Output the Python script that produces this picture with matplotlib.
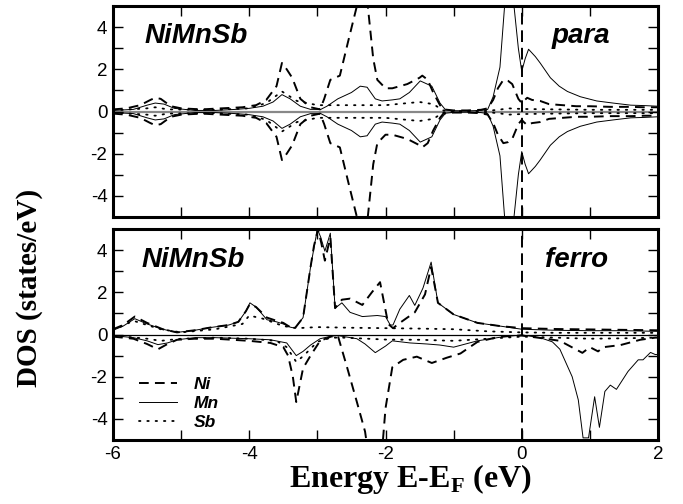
import matplotlib
matplotlib.use("Agg")
import matplotlib.pyplot as plt
from matplotlib.ticker import MultipleLocator
from matplotlib.lines import Line2D
import numpy as np

# ---------------- data ----------------
# paramagnetic panel: symmetric, store the spin-up half
para_ni_e = [-6.0, -5.8, -5.6, -5.45, -5.38, -5.3, -5.15, -5.0, -4.7, -4.4, -4.1, -3.9, -3.75, -3.6,
             -3.52, -3.45, -3.37, -3.25, -3.1, -2.96, -2.9, -2.81, -2.67, -2.55, -2.42, -2.35, -2.26,
             -2.18, -2.12, -2.0, -1.9, -1.68, -1.5, -1.46, -1.38, -1.3, -1.2, -1.15, -1.0, -0.8, -0.6,
             -0.5, -0.42, -0.35, -0.27, -0.2, -0.14, -0.05, 0.0, 0.03, 0.08, 0.15, 0.27, 0.4, 0.6,
             0.8, 1.0, 1.3, 1.6, 1.8, 2.0]
para_ni = [0.1, 0.15, 0.3, 0.55, 0.65, 0.6, 0.25, 0.15, 0.1, 0.15, 0.2, 0.3, 0.55, 1.2,
           2.3, 2.0, 1.6, 0.6, 0.2, 0.1, 0.6, 1.5, 1.7, 3.3, 5.0, 7.0, 5.0,
           2.5, 1.5, 1.1, 1.1, 1.3, 1.6, 1.7, 1.5, 0.9, 0.3, 0.1, 0.05, 0.05, 0.08,
           0.15, 0.55, 1.1, 1.5, 1.45, 1.3, 0.6, 0.4, 0.5, 0.65, 0.55, 0.5, 0.35, 0.3,
           0.25, 0.25, 0.22, 0.22, 0.2, 0.2]

para_mn_e = [-6.0, -5.7, -5.5, -5.38, -5.25, -5.1, -4.8, -4.5, -4.2, -4.0, -3.8, -3.65, -3.52, -3.4,
             -3.25, -3.1, -2.95, -2.86, -2.7, -2.5, -2.37, -2.27, -2.15, -2.05, -1.9, -1.79, -1.65,
             -1.49, -1.32, -1.2, -1.12, -1.0, -0.8, -0.6, -0.5, -0.42, -0.32, -0.24, -0.2, -0.16,
             -0.13, -0.05, 0.0, 0.05, 0.1, 0.2, 0.27, 0.42, 0.55, 0.67, 0.86, 1.1, 1.34, 1.6, 1.8, 2.0]
para_mn = [0.05, 0.1, 0.3, 0.4, 0.35, 0.15, 0.05, 0.05, 0.1, 0.15, 0.25, 0.45, 0.8, 0.6,
           0.25, 0.1, 0.1, 0.25, 0.6, 0.9, 1.2, 1.15, 0.6, 0.5, 0.55, 0.6, 0.9,
           1.45, 1.2, 0.4, 0.08, 0.04, 0.03, 0.05, 0.1, 0.7, 2.1, 5.5, 8.0, 7.0,
           5.5, 3.0, 1.9, 2.5, 2.95, 2.6, 2.3, 1.6, 1.2, 0.95, 0.7, 0.5, 0.4, 0.3, 0.28, 0.25]

para_sb_e = [-6.0, -5.5, -5.38, -5.2, -4.5, -4.0, -3.75, -3.52, -3.3, -3.0, -2.5, -2.0, -1.5, -1.3,
             -1.15, -1.0, -0.5, -0.3, -0.2, 0.0, 0.5, 1.0, 1.5, 2.0]
para_sb = [0.05, 0.15, 0.2, 0.1, 0.08, 0.15, 0.4, 0.95, 0.5, 0.3, 0.3, 0.3, 0.45, 0.35,
           0.05, 0.02, 0.03, 0.1, 0.15, 0.12, 0.1, 0.08, 0.08, 0.08]

# ferromagnetic panel: spin up
fm_ni_up_e = [-6.0, -5.85, -5.68, -5.5, -5.27, -5.06, -4.8, -4.57, -4.3, -4.16, -4.05, -3.99, -3.9,
              -3.74, -3.6, -3.5, -3.4, -3.33, -3.21, -3.1, -3.05, -2.99, -2.94, -2.89, -2.81, -2.74,
              -2.64, -2.52, -2.34, -2.2, -2.08, -1.96, -1.89, -1.79, -1.57, -1.42, -1.33, -1.23,
              -1.0, -0.65, -0.32, 0.0, 0.5, 1.0, 1.5, 2.0]
fm_ni_up = [0.25, 0.45, 0.85, 0.55, 0.25, 0.1, 0.2, 0.33, 0.45, 0.6, 1.1, 1.45, 1.3,
            0.8, 0.65, 0.55, 0.35, 0.3, 0.8, 3.2, 4.2, 5.0, 4.3, 3.5, 4.6, 1.25,
            1.65, 1.7, 1.4, 2.0, 2.48, 0.5, 0.3, 0.55, 1.05, 1.9, 3.2, 1.5,
            0.95, 0.55, 0.4, 0.3, 0.26, 0.24, 0.22, 0.2]

fm_mn_up_e = [-6.0, -5.85, -5.68, -5.5, -5.27, -5.06, -4.8, -4.57, -4.3, -4.16, -4.05, -3.99, -3.9,
              -3.74, -3.6, -3.5, -3.4, -3.33, -3.21, -3.1, -3.0, -2.95, -2.89, -2.81, -2.74, -2.64,
              -2.52, -2.34, -2.12, -2.0, -1.93, -1.89, -1.79, -1.65, -1.57, -1.45, -1.33, -1.23,
              -1.0, -0.65, -0.32, 0.0, 0.5, 1.0, 1.5, 2.0]
fm_mn_up = [0.2, 0.4, 0.75, 0.5, 0.25, 0.1, 0.2, 0.33, 0.45, 0.6, 1.1, 1.5, 1.3,
            0.7, 0.6, 0.5, 0.35, 0.3, 0.8, 3.2, 5.0, 4.6, 3.95, 4.8, 1.25, 1.5,
            1.05, 0.85, 0.9, 0.85, 0.45, 0.45, 1.2, 1.85, 1.38, 2.2, 3.43, 1.5,
            0.95, 0.55, 0.4, 0.25, 0.2, 0.18, 0.18, 0.15]

fm_sb_up_e = [-6.0, -5.7, -5.3, -5.0, -4.5, -4.1, -4.0, -3.8, -3.5, -3.3, -3.0, -2.5, -2.0, -1.5,
              -1.0, -0.5, 0.0, 0.5, 1.0, 1.5, 2.0]
fm_sb_up = [0.2, 0.65, 0.25, 0.1, 0.25, 0.5, 0.9, 0.75, 0.4, 0.3, 0.35, 0.32, 0.3, 0.28,
            0.25, 0.15, 0.1, 0.08, 0.08, 0.08, 0.08]

# ferromagnetic panel: spin down
fm_ni_dn_e = [-6.0, -5.7, -5.5, -5.34, -5.2, -5.06, -4.8, -4.5, -4.0, -3.69, -3.5, -3.43, -3.36,
              -3.31, -3.21, -3.1, -2.96, -2.8, -2.7, -2.56, -2.42, -2.3, -2.26, -2.05, -2.0, -1.9,
              -1.74, -1.54, -1.32, -1.1, -0.9, -0.65, -0.32, 0.0, 0.26, 0.56, 0.89, 1.0, 1.12,
              1.2, 1.45, 1.74, 1.96, 2.0]
fm_ni_dn = [-0.1, -0.2, -0.45, -0.7, -0.45, -0.25, -0.2, -0.2, -0.3, -0.4, -0.6, -1.0, -2.0,
            -3.2, -1.6, -1.0, -0.3, -0.1, -0.05, -1.6, -3.2, -4.6, -5.5, -5.5, -3.5, -1.55,
            -1.2, -1.05, -1.35, -1.1, -0.9, -0.35, -0.1, -0.05, -0.16, -0.3, -0.87, -0.6, -0.8,
            -0.6, -0.5, -0.25, -0.15, -0.15]

fm_mn_dn_e = [-6.0, -5.7, -5.5, -5.34, -5.2, -5.06, -4.8, -4.5, -4.0, -3.69, -3.45, -3.31, -3.21,
              -3.1, -2.96, -2.8, -2.7, -2.42, -2.3, -2.15, -2.0, -1.9, -1.64, -1.39, -1.2, -1.0,
              -0.65, -0.3, 0.0, 0.27, 0.45, 0.56, 0.74, 0.83, 0.9, 0.98, 1.07, 1.14, 1.22, 1.3,
              1.39, 1.47, 1.56, 1.71, 1.78, 1.89, 1.96, 2.0]
fm_mn_dn = [-0.05, -0.15, -0.3, -0.48, -0.4, -0.25, -0.15, -0.15, -0.2, -0.25, -0.4, -1.0, -0.8,
            -0.5, -0.2, -0.08, -0.05, -0.2, -0.45, -0.86, -0.55, -0.3, -0.4, -0.45, -0.5, -0.6,
            -0.3, -0.12, -0.02, -0.15, -0.35, -0.7, -2.0, -3.1, -4.9, -4.9, -2.95, -4.4, -2.7, -2.4,
            -2.6, -2.2, -1.75, -1.2, -1.2, -0.85, -0.95, -0.95]

fm_sb_dn_e = [-6.0, -5.5, -5.3, -5.0, -4.5, -4.0, -3.6, -3.45, -3.31, -3.2, -3.0, -2.8, -2.6, -2.0,
              -1.5, -1.0, -0.5, 0.0, 0.5, 1.0, 1.5, 2.0]
fm_sb_dn = [-0.05, -0.2, -0.3, -0.2, -0.15, -0.2, -0.3, -0.6, -1.3, -1.0, -0.35, -0.15, -0.15, -0.24,
            -0.25, -0.3, -0.2, -0.1, -0.15, -0.2, -0.18, -0.15]

x_ticks = [-6, -4, -2, 0, 2]
y_ticks = [-4, -2, 0, 2, 4]
species = ["Ni", "Mn", "Sb"]

# ---------------- style ----------------
plt.rcParams['font.family'] = ['Liberation Sans', 'DejaVu Sans']
plt.rcParams['mathtext.fontset'] = 'custom'
plt.rcParams['mathtext.rm'] = 'Liberation Serif:bold'
plt.rcParams['mathtext.bf'] = 'Liberation Serif:bold'

styles = {
    "Ni": dict(color='black', lw=1.4, ls=(0, (5, 3.2))),
    "Mn": dict(color='black', lw=0.7, ls='-'),
    "Sb": dict(color='black', lw=1.3, ls=(0, (0.8, 3.8)), dash_capstyle='round'),
}

fig = plt.figure(figsize=(6.83, 5.04), dpi=100)
W, H = 683, 504
left, right = 113 / W, 658 / W
ax1 = fig.add_axes([left, 1 - 217 / H, right - left, 211 / H])
ax2 = fig.add_axes([left, 1 - 440 / H, right - left, 211 / H])

for ax in (ax1, ax2):
    ax.set_xlim(-6, 2)
    ax.set_ylim(-5, 5)
    ax.xaxis.set_major_locator(MultipleLocator(2))
    ax.xaxis.set_minor_locator(MultipleLocator(1))
    ax.yaxis.set_major_locator(MultipleLocator(2))
    ax.yaxis.set_minor_locator(MultipleLocator(1))
    ax.tick_params(which='both', direction='in', top=True, right=True,
                   length=7, width=1.0, labelsize=13.5, pad=4)
    for sp in ax.spines.values():
        sp.set_linewidth(2.2)
    ax.set_yticks(y_ticks)
    ax.set_yticklabels([str(t) for t in y_ticks])
    ax.axvline(0, color='black', lw=1.4, ls=(0, (6, 3)), zorder=3)

# top panel (para)
ax1.axhline(0, color='#888888', lw=1.6, zorder=1)
for e, v, k in ((para_ni_e, para_ni, "Ni"), (para_mn_e, para_mn, "Mn"), (para_sb_e, para_sb, "Sb")):
    e = np.asarray(e); v = np.asarray(v)
    ax1.plot(e, v, **styles[k], zorder=2)
    ax1.plot(e, -v, **styles[k], zorder=2)
ax1.set_xticks(x_ticks)
ax1.set_xticklabels([])

# bottom panel (ferro)
ax2.axhline(0, color='black', lw=0.9, zorder=1)
ax2.plot(fm_ni_up_e, fm_ni_up, **styles["Ni"], zorder=2)
ax2.plot(fm_mn_up_e, fm_mn_up, **styles["Mn"], zorder=2)
ax2.plot(fm_sb_up_e, fm_sb_up, **styles["Sb"], zorder=2)
ax2.plot(fm_ni_dn_e, fm_ni_dn, **styles["Ni"], zorder=2)
ax2.plot(fm_mn_dn_e, fm_mn_dn, **styles["Mn"], zorder=2)
ax2.plot(fm_sb_dn_e, fm_sb_dn, **styles["Sb"], zorder=2)
ax2.set_xticks(x_ticks)
ax2.set_xticklabels([str(t) for t in x_ticks])

handles = [Line2D([], [], **styles[k]) for k in species]
leg = ax2.legend(handles, species, loc='upper left', bbox_to_anchor=(0.035, 0.331),
                 frameon=False, handlelength=2.2, handletextpad=0.95, labelspacing=0.22,
                 borderaxespad=0, prop=dict(family='Liberation Sans', weight='bold',
                                            style='italic', size=12.5))

lab = dict(family='Liberation Sans', weight='bold', style='italic', size=20)
ax1.text(145 / W, 1 - 43 / H, "NiMnSb", transform=fig.transFigure, va='baseline', ha='left', **lab)
ax1.text(552 / W, 1 - 43 / H, "para", transform=fig.transFigure, va='baseline', ha='left', **lab)
ax2.text(142 / W, 1 - 267 / H, "NiMnSb", transform=fig.transFigure, va='baseline', ha='left', **lab)
ax2.text(545 / W, 1 - 267 / H, "ferro", transform=fig.transFigure, va='baseline', ha='left', **lab)

fig.text(411 / W, 1 - 487 / H, r"Energy E-E$_{\rm F}$ (eV)", ha='center', va='baseline',
         family='Liberation Serif', weight='bold', size=23)
fig.text(30 / W, 1 - 288 / H, "DOS (states/eV)", ha='center', va='center', rotation=90,
         family='Liberation Serif', weight='bold', size=21)

fig.savefig("out.png", dpi=100)
